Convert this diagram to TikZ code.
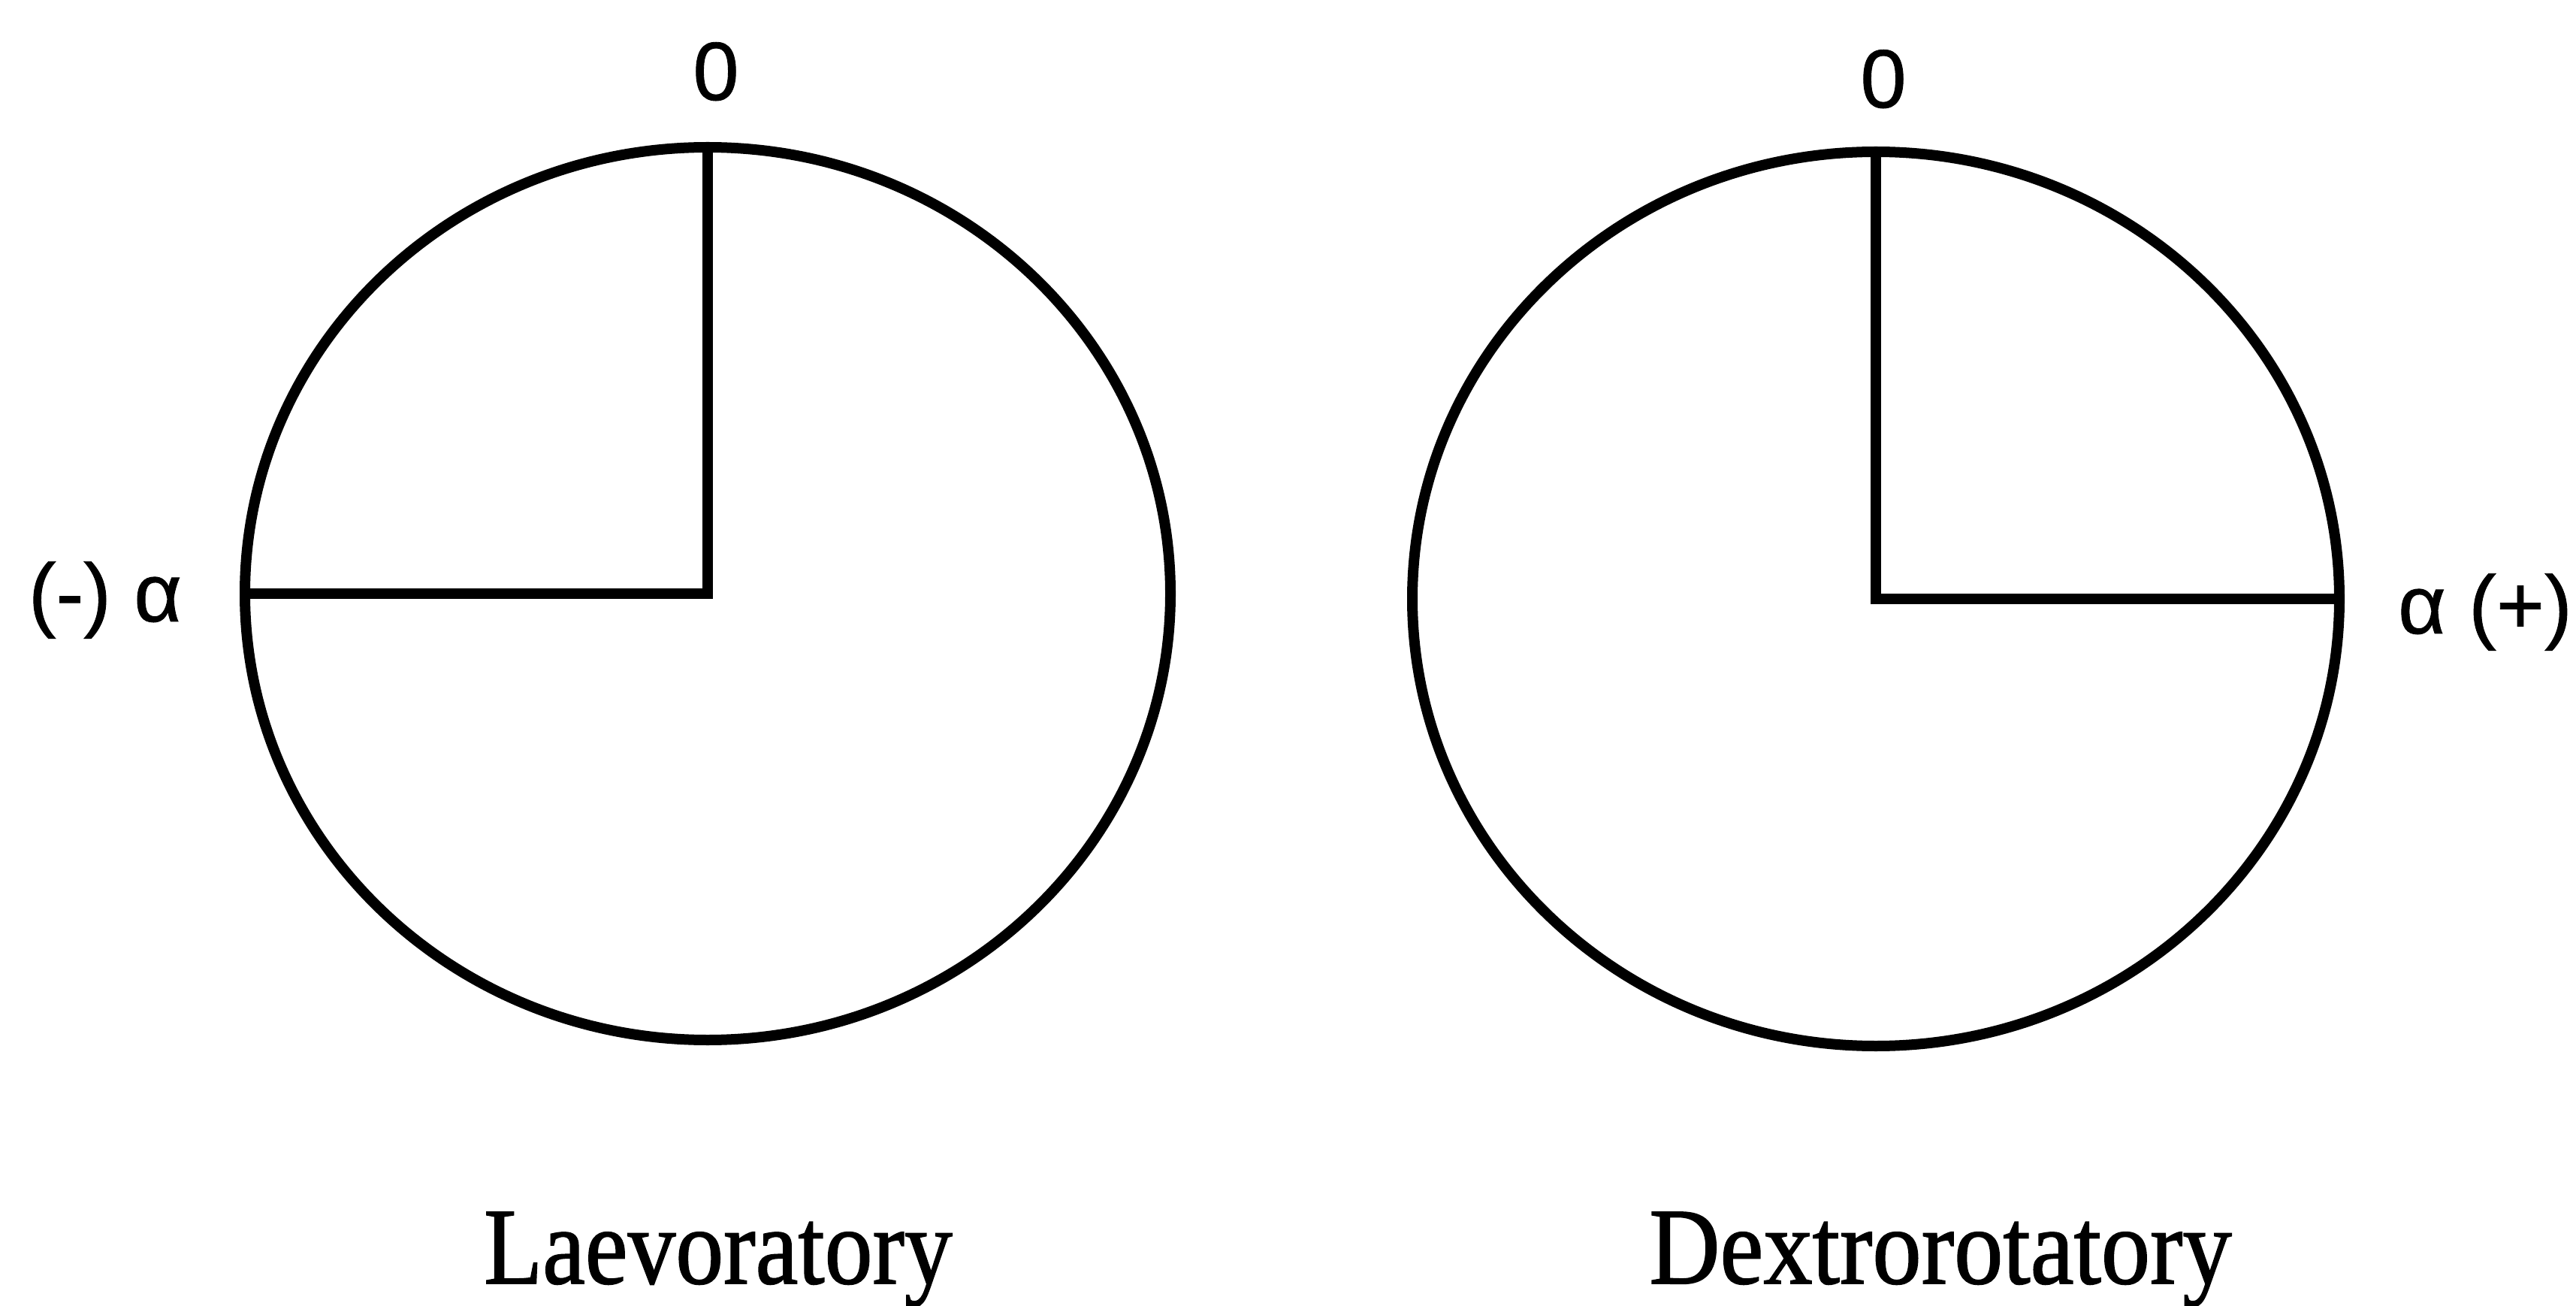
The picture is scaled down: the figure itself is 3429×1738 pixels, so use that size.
\documentclass[tikz,border=0pt]{standalone}
\usepackage{fontspec}
\setmainfont{Liberation Serif}
\newfontfamily\labsans[FakeBold=0.8]{Liberation Sans}
\newfontfamily\capserif[FakeBold=1.2]{Liberation Serif}
\begin{document}
\begin{tikzpicture}[x=0.1pt,y=-0.1pt,
  rim/.style={line width=1.4pt},
  arm/.style={line width=1.4pt},
  tick/.style={font=\labsans\fontsize{11}{13}\selectfont, inner sep=0pt, anchor=base},
  caption/.style={font=\capserif\fontsize{14.5}{17}\selectfont, inner sep=0pt, anchor=base}]
\useasboundingbox (0,0) rectangle (3429,1738);
% left circle
\coordinate (lc) at (942,790);
\draw[rim] (lc) ellipse [x radius=616, y radius=594];
\coordinate (ltop) at (942,196);
\coordinate (lleft) at (326,790);
\draw[arm] (ltop) -- (lc) -- (lleft);
% right circle
\coordinate (rc) at (2497,797);
\draw[rim] (rc) ellipse [x radius=617, y radius=595];
\coordinate (rtop) at (2497,202);
\coordinate (rright) at (3114,797);
\draw[arm] (rtop) -- (rc) -- (rright);
% labels
\node[tick] (z1) at (953,133) {0};
\node[tick] (z2) at (2507,143) {0};
\node[tick] (la) at (140,827) {(-) α};
\node[tick] (ra) at (3308,843) {α (+)};
\node[caption] (cl) at (956,1708) {\scalebox{0.88}[1]{Laevoratory}};
\node[caption] (cr) at (2583,1708) {\scalebox{0.9}[1]{Dextrorotatory}};
\end{tikzpicture}
\end{document}
